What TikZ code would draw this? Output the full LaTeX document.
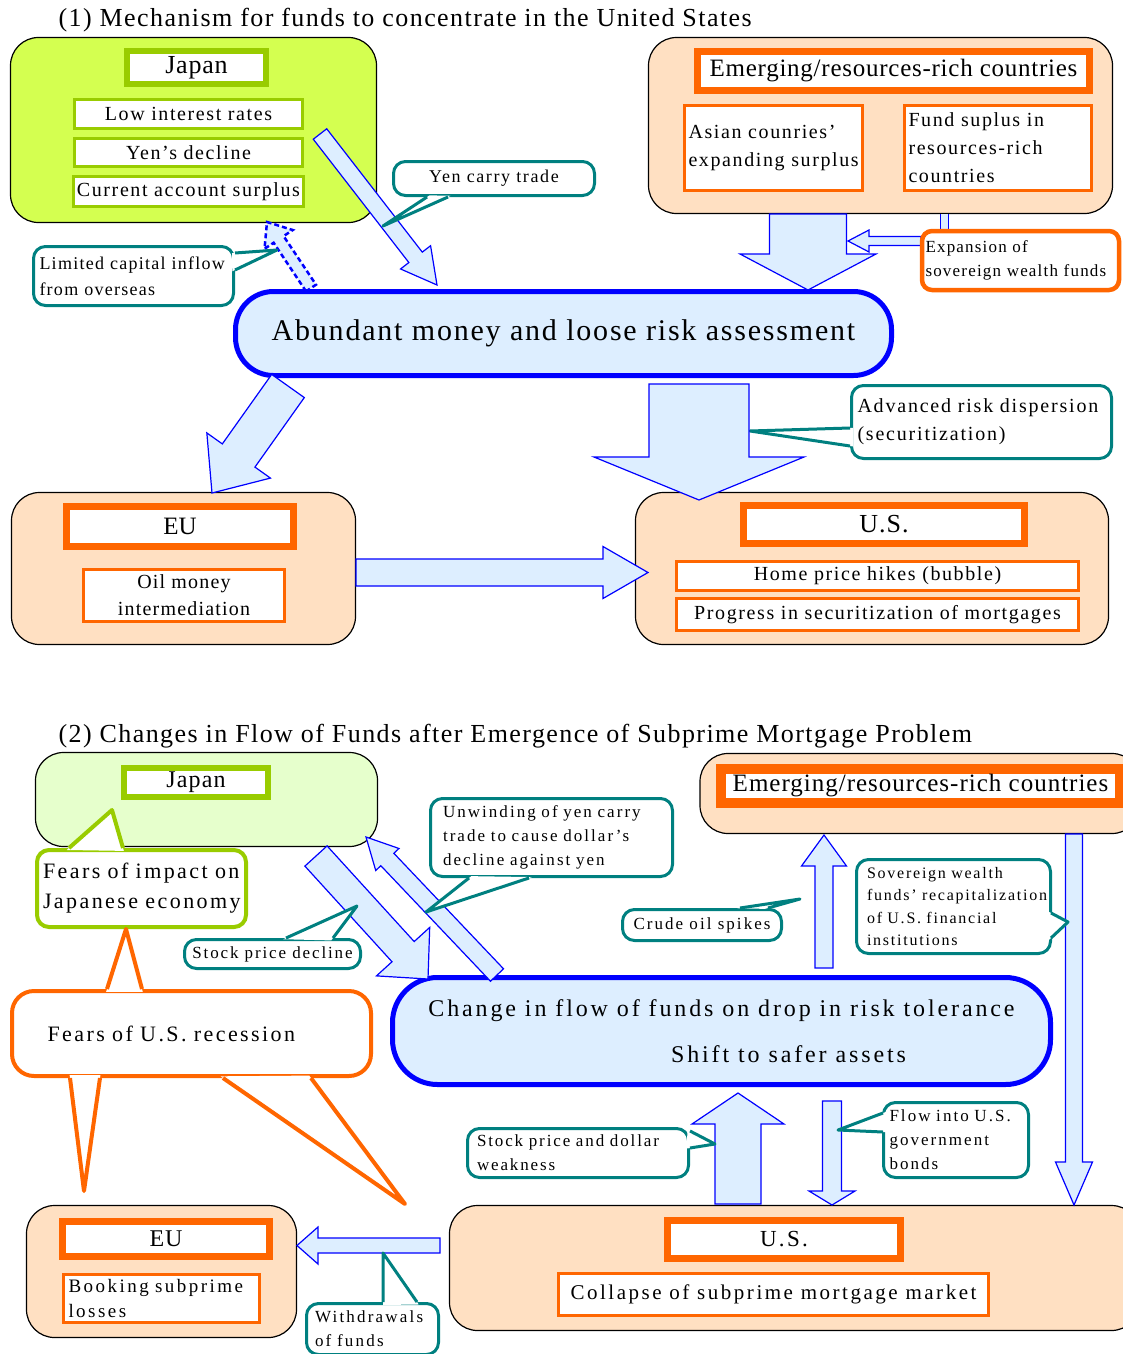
\documentclass[tikz,border=0pt]{standalone}
\usepackage{fontspec}
\setmainfont{Liberation Serif}
\usetikzlibrary{calc}

\definecolor{jpgreen}{RGB}{212,255,80}
\definecolor{jppale}{RGB}{230,255,204}
\definecolor{peach}{RGB}{255,224,194}
\definecolor{flowfill}{RGB}{221,238,255}
\definecolor{tagorange}{RGB}{255,102,0}
\definecolor{taggreen}{RGB}{153,204,0}
\definecolor{noteteal}{RGB}{0,128,128}

% font size with optional letter spacing
\newcommand\fs[3][0]{\addfontfeatures{LetterSpace=#1}\fontsize{#2}{#3}\selectfont}

\tikzset{
  zone/.style={draw=black, line width=1.2pt, rounded corners=28pt, inner sep=0pt},
  tagbox/.style={draw=#1, line width=7pt, fill=white, inner sep=0pt},
  itembox/.style={draw=#1, line width=3pt, fill=white, inner sep=3pt, font={\fs[8]{20}{28}}},
  notebox/.style={draw=#1, line width=3pt, fill=white, rounded corners=12pt,
    inner xsep=6pt, align=left},
  notebox/.default=noteteal,
  hubbox/.style={draw=blue, line width=5pt, fill=flowfill, rounded corners=38pt},
  fatflow/.style={draw=blue, fill=flowfill, line width=1.2pt},
}

% broad arrow: from, to, half shaft, half head, head length
\newcommand\flowarrow[6][]{%
  \coordinate (fb) at ($(#3)!#6!(#2)$);
  \draw[fatflow,#1] ($(#2)!#4!90:(#3)$) -- ($(fb)!#4!90:(#3)$) -- ($(fb)!#5!90:(#3)$)
    -- (#3) -- ($(fb)!#5!-90:(#3)$) -- ($(fb)!#4!-90:(#3)$) -- ($(#2)!#4!-90:(#3)$) -- cycle;
}
% callout tail: base, base, tip
\newcommand\tail[4][]{%
  \fill[white] ($(#2)!-3pt!(#4)$) -- (#4) -- ($(#3)!-3pt!(#4)$) -- cycle;
  \draw[noteteal, line width=3pt, line join=round, #1] (#2) -- (#4) -- (#3);
}

\begin{document}
\begin{tikzpicture}[x=1pt, y=-1pt]
  \useasboundingbox (0,0) rectangle (1122,1354);

  %% (1)
  \node[anchor=west, font={\fs[5.5]{26}{30}}] (title1) at (55,20)
    {(1) Mechanism for funds to concentrate in the United States};

  \node[zone, fill=jpgreen, minimum width=366pt, minimum height=185pt] (jp1) at (193.5,130) {};
  \node[tagbox=taggreen, line width=6pt, minimum width=139pt, minimum height=33pt,
    font={\fs[3]{26}{30}}] (jp1tag) at (196.5,67.5) {Japan};
  \node[itembox=taggreen, minimum width=228pt, minimum height=29pt] (low) at (188.5,114) {Low interest rates};
  \node[itembox=taggreen, minimum width=228pt, minimum height=28pt] (yen) at (188.5,152.5) {Yen's decline};
  \node[itembox=taggreen, minimum width=228pt, minimum height=30pt] (cas) at (188.5,191.5) {Current account surplus};

  \node[zone, fill=peach, minimum width=464pt, minimum height=176pt] (em1) at (880.5,125.5) {};
  \node[tagbox=tagorange, minimum width=392pt, minimum height=39pt,
    font={\fs[3]{25}{28}}] (em1tag) at (893.5,71) {Emerging/resources-rich countries};
  \node[itembox=tagorange, minimum width=178pt, minimum height=85pt, text width=170pt,
    align=left] (asian) at (773.5,148) {Asian counries'\\expanding surplus};
  \node[itembox=tagorange, minimum width=187pt, minimum height=85pt, text width=179pt,
    align=left] (fund) at (998,148) {Fund suplus in\\resources-rich\\countries};

  \coordinate (em-a) at (808,214);
  \coordinate (em-b) at (808,290);
  \flowarrow{em-a}{em-b}{38.5pt}{68pt}{36pt}
  \coordinate (fd-a) at (944.5,214);
  \coordinate (fd-b) at (944.5,230);
  \draw[blue, line width=1pt, double=flowfill, double distance=7pt] (fd-a) -- (fd-b);
  \coordinate (sw-a) at (921,241);
  \coordinate (sw-b) at (848,241);
  \flowarrow{sw-a}{sw-b}{4.5pt}{11pt}{21pt}
  \node[draw=tagorange, line width=4.5pt, fill=white, rounded corners=10pt, inner xsep=3pt,
    minimum width=197pt, minimum height=59pt, text width=190pt, align=left,
    font={\fs[7]{17}{24}}] (swf) at (1020.5,260.5) {Expansion of\\sovereign wealth funds};

  \coordinate (yc-a) at (320,134);
  \coordinate (yc-b) at (437,285);
  \flowarrow{yc-a}{yc-b}{8.5pt}{19pt}{35pt}
  \coordinate (lc-a) at (311,288);
  \coordinate (lc-b) at (267,222);
  \flowarrow[line width=2.5pt, dash pattern=on 5pt off 3pt]{lc-a}{lc-b}{6pt}{17pt}{21pt}

  \node[hubbox, minimum width=656pt, minimum height=84pt, font={\fs[6]{30}{34}}] (hub1)
    at (563.5,333.5) {Abundant money and loose risk assessment};

  \node[notebox, minimum width=201pt, minimum height=34pt, font={\fs[9]{18}{20}}] (yct)
    at (494,178.5) {Yen carry trade};
  \tail{427,197}{448,197}{383,226}
  \node[notebox, minimum width=200pt, minimum height=59pt, text width=188pt,
    font={\fs[7]{18}{26}}] (lci) at (133.5,276) {Limited capital inflow\\from overseas};
  \tail{235,253}{235,270}{277,250}
  \node[notebox, minimum width=260pt, minimum height=73pt, text width=248pt,
    font={\fs[9]{20}{28}}] (ard) at (981.5,422) {Advanced risk dispersion\\(securitization)};
  \tail{850,428}{850,446}{750,431}

  \node[zone, fill=peach, minimum width=344pt, minimum height=152pt] (eu1) at (183.5,568.5) {};
  \node[tagbox=tagorange, minimum width=227pt, minimum height=40pt, font={\fs{25}{28}}] (eu1tag)
    at (180,526.5) {EU};
  \node[itembox=tagorange, minimum width=201pt, minimum height=52pt, align=center,
    font={\fs[6]{20}{27}}] (oil) at (184,595.5) {Oil money\\intermediation};
  \node[zone, fill=peach, minimum width=473pt, minimum height=152pt] (us1) at (872,568.5) {};
  \node[tagbox=tagorange, minimum width=281pt, minimum height=38pt, font={\fs[4]{26}{28}}] (us1tag)
    at (884,524.5) {U.S.};
  \node[itembox=tagorange, minimum width=402pt, minimum height=29pt] (home) at (877.5,576)
    {Home price hikes (bubble)};
  \node[itembox=tagorange, minimum width=402pt, minimum height=32pt] (prog) at (877.5,614.5)
    {Progress in securitization of mortgages};

  \coordinate (h1-eu) at (288,386);
  \coordinate (eu-in) at (212,493);
  \flowarrow{h1-eu}{eu-in}{20pt}{39pt}{46pt}
  \coordinate (h1-us) at (699,384);
  \coordinate (us-in) at (699,500);
  \flowarrow{h1-us}{us-in}{50pt}{105pt}{43pt}
  \coordinate (eu-us-a) at (356,572.5);
  \coordinate (eu-us-b) at (648,572.5);
  \flowarrow{eu-us-a}{eu-us-b}{13.5pt}{26pt}{45pt}

  %% (2)
  \node[anchor=west, font={\fs[5.5]{26}{30}}] (title2) at (55,736)
    {(2) Changes in Flow of Funds after Emergence of Subprime Mortgage Problem};

  \node[zone, fill=jppale, minimum width=342pt, minimum height=94pt] (jp2) at (206.5,799.5) {};
  \node[tagbox=taggreen, line width=6pt, minimum width=144pt, minimum height=29pt,
    font={\fs[5]{24}{26}}] (jp2tag) at (196,782.5) {Japan};
  \node[zone, fill=peach, minimum width=440pt, minimum height=80pt] (em2) at (920,793.5) {};
  \node[tagbox=tagorange, line width=10pt, minimum width=399pt, minimum height=34pt,
    font={\fs[4]{25}{28}}] (em2tag) at (920.5,786) {Emerging/resources-rich countries};

  \node[hubbox, rounded corners=45pt, minimum width=658pt, minimum height=107pt,
    align=center, font={\fs[12]{24}{46}}] (hub2) at (721.5,1031)
    {Change in flow of funds on drop in risk tolerance\\\hspace*{134pt}Shift to safer assets};

  \node[zone, fill=peach, minimum width=270pt, minimum height=132pt] (eu2) at (161.5,1271.5) {};
  \node[tagbox=tagorange, minimum width=207pt, minimum height=35pt, font={\fs[4]{24}{26}}] (eu2tag)
    at (166,1239) {EU};
  \node[itembox=tagorange, minimum width=196pt, minimum height=48pt, text width=186pt,
    align=left, font={\fs[13]{19}{25}}] (book) at (161.5,1298.5) {Booking subprime\\losses};
  \node[zone, fill=peach, minimum width=690pt, minimum height=125pt] (us2) at (794.5,1268) {};
  \node[tagbox=tagorange, minimum width=233pt, minimum height=38pt, font={\fs[10]{23}{26}}] (us2tag)
    at (784,1239.5) {U.S.};
  \node[itembox=tagorange, minimum width=430pt, minimum height=42pt, font={\fs[12]{21}{24}}] (col)
    at (773.5,1294.5) {Collapse of subprime mortgage market};

  \coordinate (jp-h2a) at (316,856);
  \coordinate (jp-h2b) at (428,979);
  \flowarrow{jp-h2a}{jp-h2b}{15pt}{36pt}{37pt}
  \coordinate (h2-jpa) at (497,975);
  \coordinate (h2-jpb) at (366,837);
  \flowarrow{h2-jpa}{h2-jpb}{9pt}{16pt}{31pt}
  \coordinate (h2-ema) at (824,968);
  \coordinate (h2-emb) at (824,835);
  \flowarrow{h2-ema}{h2-emb}{9pt}{22.5pt}{31pt}
  \coordinate (em-usa) at (1074,834);
  \coordinate (em-usb) at (1074,1205);
  \flowarrow{em-usa}{em-usb}{8.5pt}{18.5pt}{43pt}
  \coordinate (us-h2a) at (738,1204);
  \coordinate (us-h2b) at (738,1093);
  \flowarrow{us-h2a}{us-h2b}{23pt}{46pt}{31pt}
  \coordinate (h2-usa) at (832,1101);
  \coordinate (h2-usb) at (832,1205);
  \flowarrow{h2-usa}{h2-usb}{9.5pt}{23pt}{14pt}
  \coordinate (us-eua) at (440,1245.5);
  \coordinate (us-eub) at (297,1245.5);
  \flowarrow{us-eua}{us-eub}{7.5pt}{18.5pt}{21pt}

  \node[notebox=taggreen, line width=4pt, minimum width=209pt, minimum height=77pt,
    text width=197pt, font={\fs[11]{22}{30}}] (fij) at (141.5,888.5)
    {Fears of impact on\\Japanese economy};
  \tail[taggreen, line width=4pt]{69,848}{123,848}{112,810}
  \node[notebox=tagorange, line width=4pt, rounded corners=22pt, minimum width=359pt,
    minimum height=85pt, text width=288pt, font={\fs[11]{22}{26}}] (fur) at (191.5,1033.5)
    {Fears of U.S. recession};
  \tail[tagorange, line width=4pt]{107,989}{142,989}{126,929}
  \tail[tagorange, line width=4pt]{70,1078}{100,1078}{84,1191}
  \tail[tagorange, line width=4pt]{223,1078}{311,1078}{405,1204}

  \node[notebox, minimum width=176pt, minimum height=29pt, font={\fs[11]{17}{20}}] (spd)
    at (272.5,954) {Stock price decline};
  \tail{286,938}{333,938}{357,906}
  \node[notebox, minimum width=242pt, minimum height=78pt, text width=217pt,
    font={\fs[12]{17}{24}}] (unw) at (551.5,837.5)
    {Unwinding of yen carry\\trade to cause dollar's\\decline against yen};
  \tail{469,878}{529,878}{426,912}
  \node[notebox, minimum width=159pt, minimum height=31pt, font={\fs[12]{17}{20}}] (cos)
    at (702,925) {Crude oil spikes};
  \tail{740,908}{768,908}{800,899}
  \node[notebox, minimum width=194pt, minimum height=94pt, text width=173pt,
    font={\fs[11]{16}{22.5}}] (swf2) at (953.5,906.5)
    {Sovereign wealth\\funds' recapitalization\\of U.S. financial\\institutions};
  \tail{1051,913}{1051,938}{1068,922}
  \node[notebox, minimum width=221pt, minimum height=49pt, text width=202pt,
    font={\fs[11]{17}{24}}] (spdw) at (578,1153) {Stock price and dollar\\weakness};
  \tail{690,1131}{690,1148}{715,1144}
  \node[notebox, minimum width=143pt, minimum height=75pt, text width=133pt,
    font={\fs[12]{17}{24}}] (fius) at (956,1140) {Flow into U.S.\\government\\bonds};
  \tail{883,1113}{883,1132}{838,1130}
  \node[notebox, minimum width=132pt, minimum height=51pt, text width=115pt,
    font={\fs[13]{17}{24}}] (wdf) at (372.5,1329) {Withdrawals\\of funds};
  \tail{383,1302}{417,1302}{383,1253}
\end{tikzpicture}
\end{document}
